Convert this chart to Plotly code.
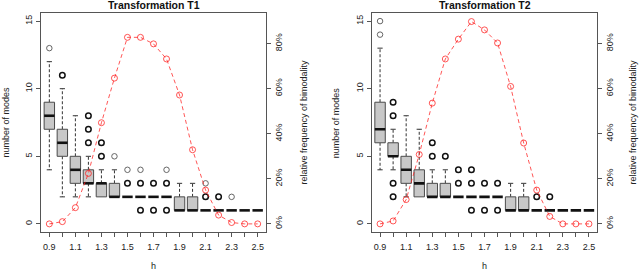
import plotly.graph_objects as go

# ---------------- data ----------------
h = [0.9, 1.0, 1.1, 1.2, 1.3, 1.4, 1.5, 1.6, 1.7, 1.8, 1.9, 2.0, 2.1, 2.2, 2.3, 2.4, 2.5]
h_ticktext = ["0.9", "", "1.1", "", "1.3", "", "1.5", "", "1.7", "", "1.9", "", "2.1", "", "2.3", "", "2.5"]
modes_ticks = [0, 5, 10, 15]
freq_ticks = [0, 20, 40, 60, 80]
freq_ticktext = ["0%", "20%", "40%", "60%", "80%"]

# Transformation T1 : box statistics of the number of modes
t1_lo  = [4, 2, 2, 2, 2, 2, 2, 2, 2, 2, 1, 1, 1, 1, 1, 1, 1]
t1_q1  = [7, 5, 3, 3, 2, 2, 2, 2, 2, 2, 1, 1, 1, 1, 1, 1, 1]
t1_med = [8, 6, 4, 3, 3, 2, 2, 2, 2, 2, 1, 1, 1, 1, 1, 1, 1]
t1_q3  = [9, 7, 5, 4, 3, 3, 2, 2, 2, 2, 2, 2, 1, 1, 1, 1, 1]
t1_hi  = [12, 10, 8, 5, 4, 4, 2, 2, 2, 2, 3, 3, 1, 1, 1, 1, 1]
t1_out_h = [0.9, 1.0, 1.2, 1.2, 1.2, 1.3, 1.3, 1.4, 1.5, 1.5, 1.6, 1.6, 1.6, 1.7, 1.7, 1.8, 1.8, 1.8, 2.1, 2.1, 2.2, 2.3]
t1_out_v = [13, 11, 8, 7, 6, 6, 5, 5, 4, 3, 4, 3, 1, 3, 1, 4, 3, 1, 3, 2, 2, 2]
t1_out_heavy = [0, 1, 1, 1, 1, 1, 1, 0, 0, 1, 0, 1, 1, 1, 1, 0, 1, 1, 0, 1, 1, 0]
# relative frequency of bimodality (%)
t1_freq = [0, 1, 7.2, 22.4, 44.9, 64.7, 82.8, 82.8, 79.9, 73.2, 57.2, 32.9, 15, 3.9, 0.6, 0, 0]

# Transformation T2
t2_lo  = [4, 4, 2, 2, 2, 2, 2, 2, 2, 2, 1, 1, 1, 1, 1, 1, 1]
t2_q1  = [6, 5, 3, 2, 2, 2, 2, 2, 2, 2, 1, 1, 1, 1, 1, 1, 1]
t2_med = [7, 5, 4, 3, 2, 2, 2, 2, 2, 2, 1, 1, 1, 1, 1, 1, 1]
t2_q3  = [9, 6, 5, 4, 3, 3, 2, 2, 2, 2, 2, 2, 1, 1, 1, 1, 1]
t2_hi  = [13, 7, 8, 7, 4, 4, 2, 2, 2, 2, 3, 3, 1, 1, 1, 1, 1]
t2_out_h = [0.9, 0.9, 1.0, 1.0, 1.0, 1.0, 1.3, 1.3, 1.4, 1.5, 1.5, 1.6, 1.6, 1.6, 1.7, 1.7, 1.8, 1.8, 2.1, 2.2]
t2_out_v = [15, 14, 9, 8, 3, 2, 6, 5, 5, 4, 3, 4, 3, 1, 3, 1, 3, 1, 2, 2]
t2_out_heavy = [0, 0, 1, 1, 1, 1, 1, 1, 1, 1, 1, 1, 1, 1, 1, 1, 1, 1, 1, 1]
t2_freq = [0, 1.3, 10.8, 30.8, 53.6, 73.2, 82, 89.8, 86.1, 80.3, 61, 35.9, 15, 3.3, 0, 0, 0]

titles = ["Transformation T1", "Transformation T2"]

# ---------------- styling ----------------
W, H = 640, 272
FONT = "Liberation Sans, Arial, sans-serif"
BOXW = 0.08
CAPW = 0.02
FRAME = "#555555"
TXT = "#222222"
RED = "rgba(255,30,30,0.75)"

panels = [
    dict(lo=t1_lo, q1=t1_q1, med=t1_med, q3=t1_q3, hi=t1_hi,
         oh=t1_out_h, ov=t1_out_v, ow=t1_out_heavy, freq=t1_freq,
         xdom=(41 / W, 266 / W), xa="x", ya="y", ya2="y2"),
    dict(lo=t2_lo, q1=t2_q1, med=t2_med, q3=t2_q3, hi=t2_hi,
         oh=t2_out_h, ov=t2_out_v, ow=t2_out_heavy, freq=t2_freq,
         xdom=(371.7 / W, 597.3 / W), xa="x2", ya="y3", ya2="y4"),
]
ydom = (1 - 232 / H, 1 - 13 / H)

fig = go.Figure()

for p in panels:
    xa, ya, ya2 = p["xa"], p["ya"], p["ya2"]
    # whiskers
    wx, wy, cx, cy = [], [], [], []
    for i, hv in enumerate(h):
        if p["hi"][i] > p["q3"][i]:
            wx += [hv, hv, None]; wy += [p["q3"][i], p["hi"][i], None]
            cx += [hv - CAPW, hv + CAPW, None]; cy += [p["hi"][i], p["hi"][i], None]
        if p["lo"][i] < p["q1"][i]:
            wx += [hv, hv, None]; wy += [p["q1"][i], p["lo"][i], None]
            cx += [hv - CAPW, hv + CAPW, None]; cy += [p["lo"][i], p["lo"][i], None]
    fig.add_trace(go.Scatter(x=wx, y=wy, mode="lines", xaxis=xa, yaxis=ya,
                             line=dict(color="#333333", width=1, dash="3px,2px"),
                             hoverinfo="skip", showlegend=False))
    fig.add_trace(go.Scatter(x=cx, y=cy, mode="lines", xaxis=xa, yaxis=ya,
                             line=dict(color="#333333", width=1),
                             hoverinfo="skip", showlegend=False))
    # boxes
    bx, by = [], []
    for i, hv in enumerate(h):
        if p["q3"][i] > p["q1"][i]:
            l, r = hv - BOXW / 2, hv + BOXW / 2
            bx += [l, r, r, l, l, None]
            by += [p["q1"][i], p["q1"][i], p["q3"][i], p["q3"][i], p["q1"][i], None]
    fig.add_trace(go.Scatter(x=bx, y=by, mode="lines", fill="toself", xaxis=xa, yaxis=ya,
                             fillcolor="#C8C8C8", line=dict(color="#4a4a4a", width=1),
                             hoverinfo="skip", showlegend=False))
    # medians
    mx, my = [], []
    for i, hv in enumerate(h):
        mx += [hv - BOXW / 2, hv + BOXW / 2, None]
        my += [p["med"][i], p["med"][i], None]
    fig.add_trace(go.Scatter(x=mx, y=my, mode="lines", xaxis=xa, yaxis=ya,
                             line=dict(color="#111111", width=2.6),
                             hoverinfo="skip", showlegend=False))
    # outliers
    for heavy, lw, col in [(0, 0.9, "#555555"), (1, 1.5, "#111111")]:
        ox = [x for x, w in zip(p["oh"], p["ow"]) if w == heavy]
        oy = [v for v, w in zip(p["ov"], p["ow"]) if w == heavy]
        fig.add_trace(go.Scatter(x=ox, y=oy, mode="markers", xaxis=xa, yaxis=ya,
                                 marker=dict(symbol="circle-open", size=5.5,
                                             color=col, line=dict(color=col, width=lw)),
                                 hoverinfo="skip", showlegend=False))
    # relative frequency of bimodality
    fig.add_trace(go.Scatter(x=h, y=p["freq"], mode="lines+markers", xaxis=xa, yaxis=ya2,
                             line=dict(color=RED, width=1, dash="4px,3px"),
                             marker=dict(symbol="circle-open", size=6,
                                         color=RED, line=dict(color=RED, width=1)),
                             hoverinfo="skip", showlegend=False))

tickfont = dict(family=FONT, size=9, color=TXT)
common_x = dict(range=[0.836, 2.564], tickmode="array", tickvals=h, ticktext=h_ticktext,
                ticks="outside", ticklen=4, tickcolor=FRAME, showline=True, linecolor=FRAME,
                linewidth=1, mirror=True, showgrid=False, zeroline=False, tickfont=tickfont,
                ticklabelstandoff=2)
common_y = dict(range=[-0.6, 15.6], tickmode="array", tickvals=modes_ticks, ticks="outside",
                ticklen=4, tickcolor=FRAME, showline=True, linecolor=FRAME, linewidth=1,
                mirror=True, showgrid=False, zeroline=False, tickangle=-90, tickfont=tickfont)
common_y2 = dict(range=[-3.6, 93.6], tickmode="array", tickvals=freq_ticks,
                 ticktext=freq_ticktext, ticks="outside", ticklen=4, tickcolor=FRAME,
                 showline=True, linecolor=FRAME, showgrid=False, zeroline=False,
                 tickangle=-90, tickfont=tickfont, side="right")

fig.update_layout(
    width=W, height=H, margin=dict(l=0, r=0, t=0, b=0),
    paper_bgcolor="white", plot_bgcolor="white", showlegend=False,
    font=dict(family=FONT, size=9, color=TXT),
    xaxis=dict(domain=panels[0]["xdom"], anchor="y", **common_x),
    yaxis=dict(domain=ydom, anchor="x", **common_y),
    yaxis2=dict(overlaying="y", anchor="x", **common_y2),
    xaxis2=dict(domain=panels[1]["xdom"], anchor="y3", **common_x),
    yaxis3=dict(domain=ydom, anchor="x2", **common_y),
    yaxis4=dict(overlaying="y3", anchor="x2", **common_y2),
)

annots = []
for k, p in enumerate(panels):
    x0, x1 = p["xdom"]
    xc = (x0 + x1) / 2
    annots.append(dict(text="<b>%s</b>" % titles[k], x=xc, y=1 - 5 / H, xref="paper", yref="paper",
                       showarrow=False, xanchor="center", yanchor="middle",
                       font=dict(family=FONT, size=10.5, color="#111111")))
    annots.append(dict(text="h", x=xc, y=1 - 266 / H, xref="paper", yref="paper",
                       showarrow=False, xanchor="center", yanchor="middle",
                       font=dict(family=FONT, size=9, color=TXT)))
    annots.append(dict(text="number of modes", x=(x0 * W - 36) / W, y=(ydom[0] + ydom[1]) / 2,
                       xref="paper", yref="paper", showarrow=False, textangle=-90,
                       xanchor="center", yanchor="middle",
                       font=dict(family=FONT, size=9, color=TXT)))
    annots.append(dict(text="relative frequency of bimodality", x=min((x1 * W + 37), 632) / W,
                       y=(ydom[0] + ydom[1]) / 2, xref="paper", yref="paper", showarrow=False,
                       textangle=-90, xanchor="center", yanchor="middle",
                       font=dict(family=FONT, size=9, color=TXT)))
fig.update_layout(annotations=annots)

fig.write_html("out.html", config={"displayModeBar": False},
               post_script="document.body.style.margin='0px';")
